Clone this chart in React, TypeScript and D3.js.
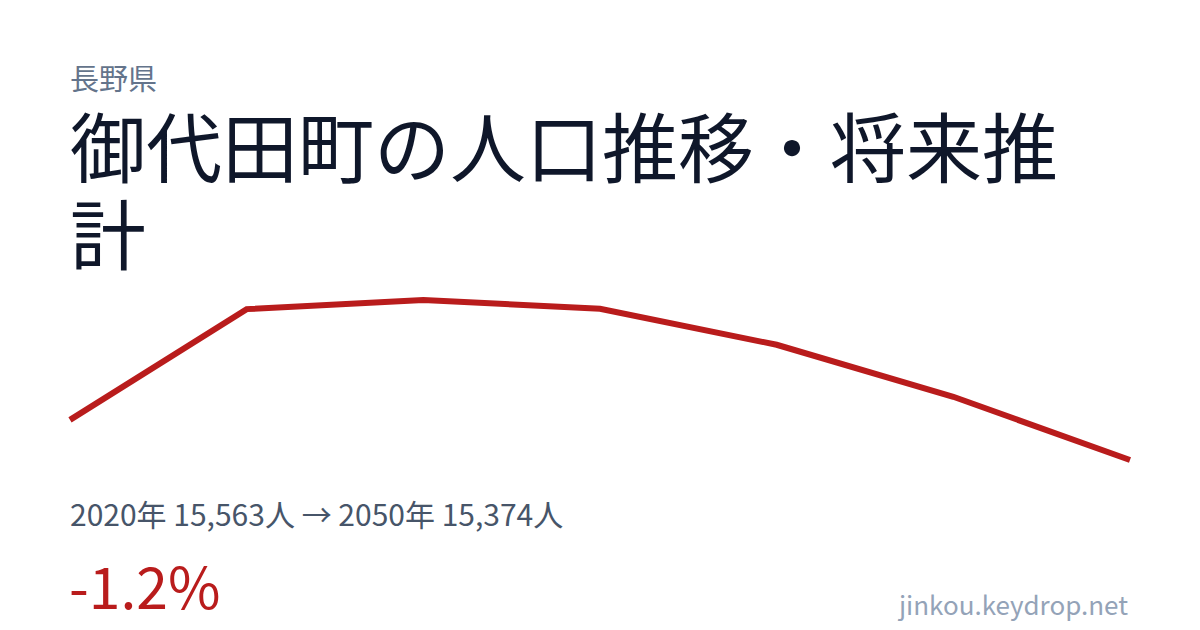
import React from 'react'
import * as d3 from 'd3'

const years = [2020, 2025, 2030, 2035, 2040, 2045, 2050]
const population = [15563, 16085, 16128, 16087, 15917, 15672, 15374]

const prefecture = '長野県'
const titleLines = ['御代田町の人口推移・将来推', '計']
const summary = '2020年 15,563人 → 2050年 15,374人'
const change = '-1.2%'
const site = 'jinkou.keydrop.net'

const W = 1200
const H = 630
const font = '"Noto Sans CJK JP", "Noto Sans", sans-serif'

const App = () => {
  const x = d3.scaleLinear().domain(d3.extent(years) as [number, number]).range([70, 1130])
  const y = d3
    .scaleLinear()
    .domain(d3.extent(population) as [number, number])
    .range([460, 300])

  const line = d3
    .line<number>()
    .x((d, i) => x(years[i]))
    .y((d) => y(d))

  return (
    <div style={{ position: 'fixed', left: 0, top: 0, width: W, height: H, background: '#fff' }}>
      <svg width={W} height={H} style={{ display: 'block' }} fontFamily={font}>
        <rect width={W} height={H} fill="#ffffff" />
        <text x={70} y={90} fontSize={29} fill="#64748b">
          {prefecture}
        </text>
        {titleLines.map((t, i) => (
          <text key={i} x={70} y={177 + i * 87} fontSize={76} fill="#0f172a">
            {t}
          </text>
        ))}
        <path
          d={line(population) || ''}
          fill="none"
          stroke="#b91c1c"
          strokeWidth={6}
          strokeLinejoin="miter"
          strokeLinecap="butt"
        />
        <text x={70} y={526} fontSize={30} fill="#475569">
          {summary}
        </text>
        <text x={69} y={609} fontSize={57} fill="#b91c1c">
          {change}
        </text>
        <text x={1128} y={615} fontSize={26} fill="#94a3b8" textAnchor="end">
          {site}
        </text>
      </svg>
    </div>
  )
}

export default App
